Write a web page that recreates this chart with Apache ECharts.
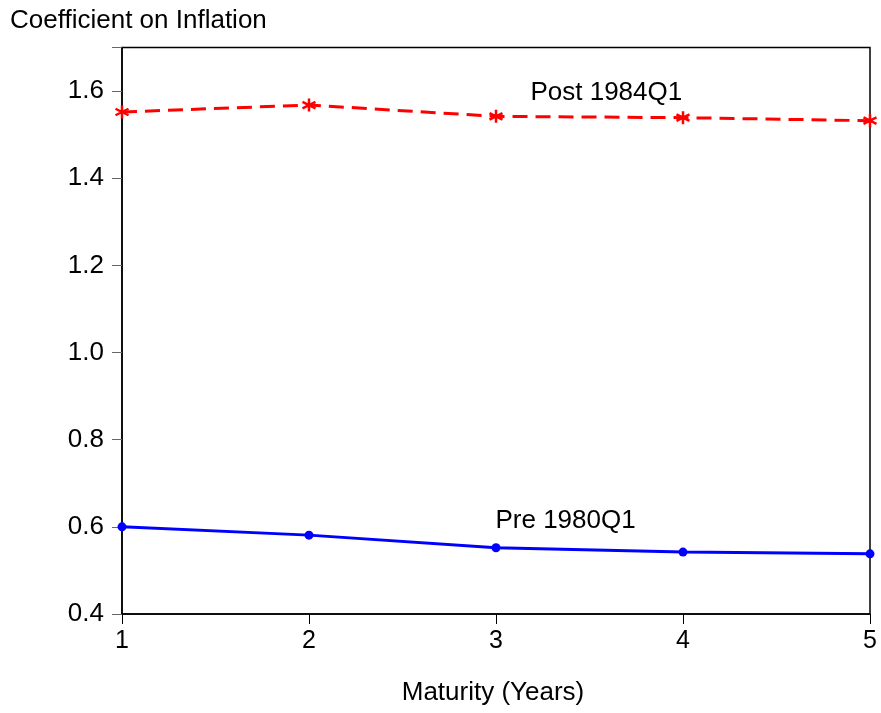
<!DOCTYPE html>
<html><head><meta charset="utf-8">
<script src="https://cdn.jsdelivr.net/npm/echarts@6/dist/echarts.min.js"></script>
<style>html,body{margin:0;padding:0;background:#fff}#c{width:881px;height:713px}</style>
</head><body><div id="c"></div>
<script>
var maturities = [1, 2, 3, 4, 5];
var post1984 = [1.552, 1.568, 1.542, 1.539, 1.532];
var pre1980 = [0.600, 0.581, 0.552, 0.542, 0.538];
var yTicks = [0.4, 0.6, 0.8, 1.0, 1.2, 1.4, 1.6];

var chart = echarts.init(document.getElementById('c'));
var F = 'Liberation Sans, Arial, sans-serif';
var star = 'path://M0,-10L0,10M-8.66,-5L8.66,5M-8.66,5L8.66,-5';
chart.setOption({
  animation: false,
  grid: {left: 122, right: 11, top: 47.5, bottom: 99, show: true, borderColor: '#000', borderWidth: 1.5, backgroundColor: 'transparent'},
  xAxis: {
    type: 'value', min: 1, max: 5, interval: 1,
    name: 'Maturity (Years)', nameLocation: 'middle', nameGap: 66,
    nameTextStyle: {fontFamily: F, fontSize: 26, color: '#000', padding: [0, 6, 0, 0]},
    axisLine: {show: true, lineStyle: {color: '#000', width: 1.5}},
    axisTick: {show: true, inside: false, length: 10, lineStyle: {color: '#000'}},
    axisLabel: {fontFamily: F, fontSize: 25, color: '#000', margin: 15},
    splitLine: {show: false}
  },
  yAxis: {
    type: 'value', min: 0.4, max: 1.7, interval: 0.2,
    axisLine: {show: true, lineStyle: {color: '#000', width: 1.5}},
    axisTick: {show: true, length: 10, lineStyle: {color: '#666'}},
    axisLabel: {fontFamily: F, fontSize: 26, color: '#000', margin: 18,
      formatter: function (v) { return yTicks.some(function (t) { return Math.abs(t - v) < 1e-9; }) ? v.toFixed(1) : ''; }},
    splitLine: {show: false}
  },
  graphic: [
    {type: 'text', left: 10, top: 8, style: {text: 'Coefficient on Inflation', font: '26px ' + F, fill: '#000'}}
  ],
  series: [
    {
      type: 'line', data: maturities.map(function (m, i) { return [m, post1984[i]]; }),
      symbol: star, symbolSize: 13, showSymbol: true,
      itemStyle: {color: '#ff0000', borderColor: '#ff0000', borderWidth: 2.5},
      lineStyle: {color: '#ff0000', width: 3, type: [15, 8]},
      markPoint: {
        symbol: 'rect', symbolSize: 0,
        label: {show: true, formatter: 'Post 1984Q1', fontFamily: F, fontSize: 26, color: '#000'},
        data: [{coord: [3.59, 1.595]}]
      }
    },
    {
      type: 'line', data: maturities.map(function (m, i) { return [m, pre1980[i]]; }),
      symbol: 'circle', symbolSize: 9, showSymbol: true,
      itemStyle: {color: '#0000ff'},
      lineStyle: {color: '#0000ff', width: 3},
      markPoint: {
        symbol: 'rect', symbolSize: 0,
        label: {show: true, formatter: 'Pre 1980Q1', fontFamily: F, fontSize: 26, color: '#000'},
        data: [{coord: [3.372, 0.614]}]
      }
    }
  ]
});
</script></body></html>
